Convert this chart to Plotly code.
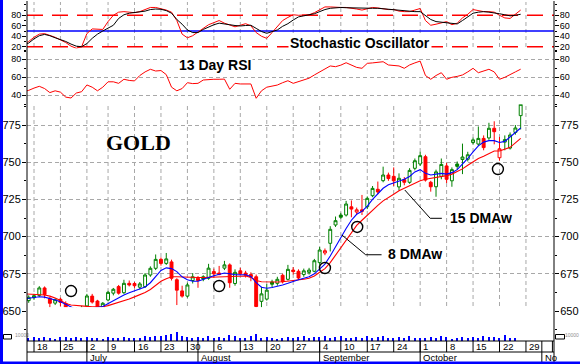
import plotly.graph_objects as go

# ---------------- data (trading-day index: 0 = Mon 18 Jun 2007) ----------------
candle_idx = list(range(-1, 93))
opens = [657, 659, 660.5, 665.5, 658.5, 655.3, 657.9, 655, 643.1, 646.2,
         650.5, 653.4, 660, 656.7, 650.7, 657.4, 662, 666.4, 662.3, 668.6,
         668.5, 666, 666.4, 674.2, 678.7, 684.7, 682, 683, 671, 663.5,
         660, 670.5, 672, 673, 672, 676.5, 675.5, 678.8, 681, 668.5,
         677, 675.5, 674.5, 673, 656.5, 658, 669.5, 668.6, 674, 671.3,
         677.5, 676.7, 674.5, 676, 676.7, 682.5, 689, 695.5, 707.8, 714.5,
         714.5, 720, 716.5, 718, 720.1, 727.5, 731.8, 737.6, 741.4, 740.5,
         733.4, 738.3, 736.5, 745.9, 748.8, 753.7, 736.5, 733.5, 740.5, 747.5,
         737.5, 748.8, 751.8, 752, 763.2, 762.2, 766, 766.3, 772.8, 753,
         763.5, 759.5, 770, 781.3]
highs = [660.5, 661.5, 666.7, 666.5, 659.5, 658.5, 659, 656.5, 646.6, 652.5,
         653.5, 661.5, 661.5, 657.5, 656, 663.5, 665.5, 667.5, 671, 670.5,
         669.5, 669.5, 675.5, 680, 688, 686, 689, 684.5, 672, 667,
         669, 675.5, 673.5, 674, 681.7, 678.5, 680.3, 683.7, 682, 678,
         679, 677, 676, 674.5, 666.3, 668, 671, 673, 675, 681,
         679.5, 678, 678.5, 679, 685, 693, 692, 707, 713.5, 716,
         724, 724.3, 719.5, 728, 727, 734, 737, 747, 743, 746.5,
         742.5, 740, 746, 752.5, 757, 755, 737.5, 745, 752.5, 749.5,
         746.5, 750.5, 762.5, 757, 766.5, 774, 768, 776.5, 777.5, 767,
         768, 770, 775, 790.5]
lows = [655.5, 657.5, 659.5, 658.5, 651.8, 654, 653, 644.6, 642, 645,
        649, 652.5, 655, 649.5, 648, 656.5, 660.5, 661, 661.5, 666.5,
        665.5, 664.5, 665.5, 673, 677.5, 680.5, 681, 670.5, 654, 659,
        659, 668.5, 665.6, 670, 671, 672.5, 674, 677.5, 665.6, 667,
        674.5, 672.5, 670, 647, 650, 657, 666, 667, 668.5, 670.5,
        674.5, 671, 673, 674.5, 676, 680.5, 687.5, 690, 706.5, 712,
        713.5, 713, 715, 714.5, 718.5, 726.5, 728.5, 736.5, 737.5, 734,
        731, 734.5, 735.5, 744.5, 747.5, 737, 730.2, 726.8, 738.5, 736,
        733.5, 745, 742, 750.5, 762, 761, 758, 765, 762, 751,
        758, 758.5, 768.5, 772]
closes = [659.2, 660.3, 665.5, 661, 655.2, 657.6, 655.8, 646.5, 645.3, 651.6,
          651.9, 660.1, 656, 651.8, 655.2, 662.5, 664.6, 662, 668.6, 667.5,
          667, 668.2, 674.2, 678.7, 684.7, 682, 685, 672, 664, 660,
          667.5, 673, 670.5, 671.5, 678.8, 675, 674.5, 681, 669, 676,
          675, 674, 673, 653, 661.5, 664, 668, 671.3, 669.7, 678,
          676.5, 672.2, 677, 677.5, 683.8, 691, 690.5, 704.9, 710.7, 713,
          721.9, 718.5, 718, 717, 725.7, 732.4, 730, 741.4, 739, 737.5,
          739.2, 736.5, 744.5, 751, 754.4, 738, 733.5, 743.5, 748.5, 738.5,
          745, 747.2, 753.5, 755, 765, 766, 759.8, 772.8, 770.5, 759,
          765.2, 768.3, 773, 788.9]

vol_idx = list(range(-1, 92))
volume = [4300, 6000, 5100, 6000, 4300, 3400, 6000, 6800, 4300, 6000,
          5100, 6000, 4300, 5100, 2600, 6000, 4300, 5100, 6000, 5100,
          4300, 5100, 8500, 6000, 8500, 7700, 10200, 11900, 15300, 8500,
          6000, 5100, 6800, 5100, 8500, 5100, 6800, 5100, 10200, 8500,
          5100, 5100, 8500, 11900, 5100, 6800, 5100, 3400, 5100, 6800,
          5100, 6800, 8500, 5100, 6800, 6800, 8500, 5100, 6800, 8500,
          5100, 5100, 6800, 5100, 8500, 5100, 6800, 8500, 5100, 5100,
          6800, 5100, 8500, 5100, 5100, 5100, 6800, 5100, 8500, 6800,
          3400, 5100, 6800, 5100, 6800, 5100, 8500, 6800, 6800, 5100,
          10200, 5100, 5100]

line_idx = list(range(-2, 93))
dma8 = [658.0, 658.4, 659.0, 659.6, 659.3, 658.5, 657.4, 656.2, 654.5, 652.5,
        651.0, 650.3, 650.8, 651.8, 652.3, 653.0, 655.0, 657.0, 659.0, 660.8,
        662.2, 663.5, 664.8, 666.2, 669.0, 673.5, 677.3, 679.0, 678.5, 676.5,
        673.0, 671.0, 670.0, 670.0, 671.0, 672.5, 673.7, 674.5, 675.5, 675.0,
        674.4, 674.4, 674.4, 673.2, 669.0, 666.0, 665.3, 665.8, 666.4, 667.5,
        668.6, 670.0, 671.0, 672.0, 673.0, 675.0, 678.5, 681.5, 687.0, 693.5,
        700.0, 705.5, 711.0, 715.0, 717.0, 720.5, 725.0, 729.0, 732.5, 734.8,
        736.0, 737.0, 738.5, 740.4, 743.5, 745.0, 742.5, 741.4, 742.0, 742.5,
        742.0, 743.0, 745.0, 748.5, 752.5, 757.0, 761.0, 763.5, 764.5, 764.5,
        763.3, 764.0, 767.0, 770.5, 773.0]
dma15 = [661.5, 661.4, 661.3, 661.2, 660.8, 660.0, 658.8, 657.0, 655.0, 654.0,
         653.6, 653.3, 653.1, 652.9, 652.9, 652.9, 653.6, 654.6, 655.8, 657.0,
         658.0, 659.5, 660.8, 662.5, 664.5, 667.0, 670.0, 671.7, 673.0, 673.0,
         672.8, 672.6, 672.5, 672.5, 672.5, 672.6, 672.8, 673.0, 673.2, 673.5,
         673.5, 673.6, 673.5, 672.6, 670.5, 669.7, 669.5, 669.5, 669.5, 669.7,
         670.0, 670.5, 670.8, 671.3, 672.0, 673.5, 676.0, 678.5, 682.5, 687.5,
         692.5, 698.0, 703.0, 707.5, 711.0, 714.5, 718.0, 721.0, 724.0, 726.5,
         728.5, 730.8, 732.5, 734.5, 736.0, 737.5, 738.5, 739.0, 739.5, 740.3,
         741.0, 742.0, 743.5, 745.5, 748.0, 750.5, 752.5, 754.0, 756.0, 757.5,
         757.5, 758.5, 760.0, 763.0, 766.0]
stoch_k = [24, 30, 38, 44, 45, 42, 38, 33, 28, 21,
           17, 20, 45, 54, 53, 53, 68, 80, 86, 87,
           86, 85, 87, 91, 95, 95, 93, 90, 86, 70,
           44, 37, 41, 48, 55, 62, 66, 70, 65, 61,
           58, 61, 64, 60, 47, 40, 36, 47, 58, 70,
           76, 81, 80, 80, 81, 85, 90, 96, 96, 95,
           95, 95, 94, 92, 90, 92, 95, 94, 92, 91,
           91, 88, 87, 87, 90, 93, 70, 61, 63, 66,
           68, 62, 65, 75, 82, 91, 89, 87, 87, 86,
           80, 75, 74, 82, 90]
stoch_d = [22, 27, 35, 41, 43.5, 41, 37, 34, 30, 25,
           21, 20, 26, 36, 44, 50, 55, 61, 74, 81,
           84, 85, 86, 88, 91, 92, 91.5, 89, 84, 72,
           63, 52, 47, 47, 53, 58, 62, 65, 64, 62,
           60.5, 59.6, 60.5, 61, 55, 49, 45.6, 49, 52, 59,
           64, 71, 77, 79, 81, 83, 87, 91, 93.4, 94.5,
           95, 94.5, 94, 93.5, 93.2, 93, 93.4, 93.4, 92.5, 91.5,
           90.5, 89, 88, 87, 87, 87, 80, 72, 68, 67,
           66, 65, 63.5, 70, 77, 84, 86, 87, 86, 85,
           83, 81, 79, 80, 82]
rsi13 = [44, 45.5, 48, 50, 47.5, 43, 45, 43.5, 38, 37,
         42.5, 44, 51.5, 49, 45, 49, 55, 55, 53.3, 57.8,
         56.5, 56, 62, 66, 68.9, 67, 67.5, 63, 49, 45,
         47.5, 54, 53, 53.3, 57, 57.8, 57.8, 57.8, 58, 46.7,
         53.3, 52.6, 52.6, 52.6, 36.7, 45, 49, 50, 51.4, 54,
         56.2, 53.3, 55, 57, 59, 62.6, 66, 70, 72.6, 71.8,
         73.5, 76.2, 73.7, 71, 70, 75.5, 76, 76.5, 77.3, 73.7,
         73, 72.6, 70, 73.7, 76, 78, 62, 57.8, 62, 65.1,
         57.8, 60, 61, 62.6, 66, 70, 65.1, 67, 68.9, 66,
         57.8, 60, 62.6, 66, 69]

circle_idx = [7.0, 35.0, 55.0, 61.1, 87.7]
circle_price = [663.4, 666.8, 678.9, 706.5, 745.4]

week_idx = [0, 5, 10, 14, 19, 24, 29, 34, 39, 44, 49, 54, 58, 63, 68, 73, 78, 83, 88, 93, 98]
week_lbl = ["18", "25", "2", "9", "16", "23", "30", "6", "13", "20", "27",
            "4", "10", "17", "24", "1", "8", "15", "22", "29", ""]
month_idx = [10, 31, 54, 73, 96]
month_lbl = ["July", "August", "September", "October", "No"]

price_ticks = [650, 675, 700, 725, 750, 775]
stoch_ticks = [20, 40, 60, 80]
rsi_ticks = [40, 60, 80]

# ---------------- styling helpers ----------------
W, H = 580, 364
L, R, T, B = 27, 26, 2, 23
PW, PH = W - L - R, H - T - B


def px(xp):
    return (xp - L) / PW


def py(yp):
    return (H - B - yp) / PH


GREEN = "#008000"
RED = "#ff0000"
BLUE = "#0000ff"
GRID = "#a8a8a8"
FONT = "Liberation Sans, Arial, sans-serif"

fig = go.Figure()

# volume
fig.add_trace(go.Bar(x=vol_idx, y=volume, yaxis="y4", width=0.28,
                     marker=dict(color=BLUE, line=dict(width=0)), hoverinfo="skip"))

# candles split into up-vs-prev (green) and down-vs-prev (red)
g = dict(x=[], o=[], h=[], l=[], c=[])
r = dict(x=[], o=[], h=[], l=[], c=[])
prev = None
for k, xi in enumerate(candle_idx):
    tgt = g if (prev is None or closes[k] >= prev) else r
    tgt["x"].append(xi); tgt["o"].append(opens[k]); tgt["h"].append(highs[k])
    tgt["l"].append(lows[k]); tgt["c"].append(closes[k])
    prev = closes[k]

for d, col in ((g, GREEN), (r, RED)):
    fig.add_trace(go.Candlestick(
        x=d["x"], open=d["o"], high=d["h"], low=d["l"], close=d["c"],
        increasing=dict(line=dict(color=col, width=1), fillcolor="white"),
        decreasing=dict(line=dict(color=col, width=1), fillcolor=col),
        whiskerwidth=0, hoverinfo="skip", yaxis="y"))

# moving averages
fig.add_trace(go.Scatter(x=line_idx, y=dma15, mode="lines", yaxis="y",
                         line=dict(color=RED, width=1.1), hoverinfo="skip"))
fig.add_trace(go.Scatter(x=line_idx, y=dma8, mode="lines", yaxis="y",
                         line=dict(color=BLUE, width=1.1), hoverinfo="skip"))

# circles
fig.add_trace(go.Scatter(x=circle_idx, y=circle_price, mode="markers", yaxis="y",
                         marker=dict(symbol="circle-open", size=11, color="black",
                                     line=dict(width=1.4)), hoverinfo="skip"))

# stochastic
fig.add_trace(go.Scatter(x=line_idx, y=stoch_k, mode="lines", yaxis="y2",
                         line=dict(color=RED, width=1), hoverinfo="skip"))
fig.add_trace(go.Scatter(x=line_idx, y=stoch_d, mode="lines", yaxis="y2",
                         line=dict(color="black", width=1), hoverinfo="skip"))
# RSI
fig.add_trace(go.Scatter(x=line_idx, y=rsi13, mode="lines", yaxis="y3",
                         line=dict(color=RED, width=1), hoverinfo="skip"))

# invisible anchors for right-side mirror axes
for ax, yv in (("y5", 700), ("y6", 50), ("y7", 50), ("y8", 1000)):
    fig.add_trace(go.Scatter(x=[0], y=[yv], yaxis=ax, mode="markers",
                             marker=dict(opacity=0), hoverinfo="skip"))

price_range = [629.84, 793.15]
price_dom = [0, py(98)]
stoch_range = [0, 100]
stoch_dom = [py(57.17), py(4.84)]
rsi_range = [30, 92]
rsi_dom = [py(104.3), py(48.5)]
vol_range = [0, 56500]
vol_dom = [0, 0.1]


def yax(rng, dom, ticks, size, grid, minor_vals, side="left", overlay=None):
    a = dict(range=rng, tickvals=ticks, ticks="outside", ticklen=4, tickcolor="black",
             tickwidth=1, tickfont=dict(size=size, family=FONT, color="black"),
             showgrid=grid, gridcolor=GRID, griddash="4px,3px", gridwidth=1,
             zeroline=False, showline=False, anchor="x", side=side,
             automargin=False, fixedrange=True, ticklabelstandoff=-1,
             minor=dict(tickvals=minor_vals, ticks="outside", ticklen=2,
                        tickcolor="black", showgrid=False))
    if overlay:
        a["overlaying"] = overlay
        a["showgrid"] = False
    else:
        a["domain"] = dom
    return a


price_minor = [637.5, 662.5, 687.5, 712.5, 737.5, 762.5, 787.5]
stoch_minor = [10, 30, 50, 70, 90, 100]
rsi_minor = [30, 50, 70, 90]

fig.update_layout(
    template="none", width=W, height=H, showlegend=False, autosize=False,
    margin=dict(l=L, r=R, t=T, b=B, pad=0),
    paper_bgcolor="white", plot_bgcolor="white",
    bargap=0, boxgap=0.22,
    xaxis=dict(range=[-1.323, 98.3], showticklabels=False, ticks="", showgrid=False,
               zeroline=False, showline=False, anchor="y", fixedrange=True,
               automargin=False, rangeslider=dict(visible=False)),
    yaxis=yax(price_range, price_dom, price_ticks, 11, True, price_minor),
    yaxis2=yax(stoch_range, stoch_dom, stoch_ticks, 9, False, stoch_minor),
    yaxis3=yax(rsi_range, rsi_dom, rsi_ticks, 9, True, rsi_minor),
    yaxis4=dict(range=vol_range, domain=vol_dom, tickvals=[10000], ticktext=["10000"],
                ticks="", showgrid=False, zeroline=False, showline=False, anchor="x",
                automargin=False, ticklabelstandoff=-3,
                tickfont=dict(size=5, color="#909090", family=FONT), fixedrange=True),
    yaxis5=yax(price_range, None, price_ticks, 11, False, price_minor, "right", "y"),
    yaxis6=yax(stoch_range, None, stoch_ticks, 9, False, stoch_minor, "right", "y2"),
    yaxis7=yax(rsi_range, None, rsi_ticks, 9, False, rsi_minor, "right", "y3"),
    yaxis8=dict(range=vol_range, overlaying="y4", side="right", anchor="x",
                tickvals=[10000], ticktext=["10000"], ticks="", showgrid=False,
                zeroline=False, showline=False, ticklabelstandoff=10, automargin=False,
                tickfont=dict(size=5, color="#909090", family=FONT), fixedrange=True),
)

shapes = []
# vertical dashed gridlines
for w in week_idx[:-1]:
    shapes.append(dict(type="line", xref="x", yref="paper", x0=w, x1=w, y0=0, y1=1,
                       line=dict(color=GRID, width=1, dash="4px,3px"), layer="below"))
# reference lines in oscillators
for lvl in (80, 20):
    shapes.append(dict(type="line", xref="paper", yref="y2", x0=0, x1=1, y0=lvl, y1=lvl,
                       line=dict(color=RED, width=1.6, dash="16px,9px"), layer="between"))
shapes.append(dict(type="line", xref="paper", yref="y2", x0=0, x1=1, y0=50, y1=50,
                   line=dict(color=BLUE, width=1.4), layer="between"))
shapes.append(dict(type="line", xref="paper", yref="y3", x0=0, x1=1, y0=70, y1=70,
                   line=dict(color=RED, width=1.6, dash="16px,9px"), layer="between"))
shapes.append(dict(type="line", xref="paper", yref="y3", x0=0, x1=1, y0=50, y1=50,
                   line=dict(color=BLUE, width=1.4), layer="between"))

# frame lines
shapes += [
    dict(type="line", xref="paper", yref="paper", x0=0, x1=0, y0=py(362), y1=py(1),
         line=dict(color="black", width=1)),
    dict(type="line", xref="paper", yref="paper", x0=1, x1=1, y0=py(362), y1=py(1),
         line=dict(color="black", width=1)),
    dict(type="line", xref="paper", yref="paper", x0=0, x1=1, y0=0, y1=0,
         line=dict(color="black", width=1)),
    dict(type="line", xref="paper", yref="paper", x0=0, x1=1, y0=py(352), y1=py(352),
         line=dict(color="black", width=1)),
]
for w in week_idx:
    shapes.append(dict(type="line", xref="x", yref="paper", x0=w, x1=w, y0=py(352), y1=0,
                       line=dict(color="black", width=1)))
for m in month_idx:
    shapes.append(dict(type="line", xref="x", yref="paper", x0=m, x1=m, y0=py(362), y1=0,
                       line=dict(color="black", width=1)))

# leader lines for the DMA labels
shapes += [
    dict(type="line", xref="x", yref="y", x0=70.1, y0=731.3, x1=74.9, y1=712.3,
         line=dict(color="black", width=1)),
    dict(type="line", xref="x", yref="y", x0=74.9, y0=712.3, x1=77.1, y1=712.3,
         line=dict(color="black", width=1)),
    dict(type="line", xref="x", yref="y", x0=58.2, y0=701.1, x1=62.7, y1=687.8,
         line=dict(color="black", width=1)),
    dict(type="line", xref="x", yref="y", x0=62.7, y0=687.8, x1=65.7, y1=687.8,
         line=dict(color="black", width=1)),
]

# small volume legend boxes
shapes += [
    dict(type="rect", xref="paper", yref="paper", x0=px(3.5), x1=px(11.5), y0=py(339), y1=py(334.5),
         line=dict(color="black", width=1), fillcolor="white"),
    dict(type="rect", xref="paper", yref="paper", x0=px(555.5), x1=px(564.5), y0=py(339), y1=py(334.5),
         line=dict(color="black", width=1), fillcolor="white"),
]

# blue border
shapes += [
    dict(type="rect", xref="paper", yref="paper", x0=px(0), x1=px(3), y0=py(364), y1=py(0),
         line=dict(width=0), fillcolor=BLUE),
    dict(type="rect", xref="paper", yref="paper", x0=px(0), x1=px(580), y0=py(364), y1=py(361.5),
         line=dict(width=0), fillcolor=BLUE),
]
fig.update_layout(shapes=shapes)

ann = []
for w, t in zip(week_idx, week_lbl):
    if t:
        ann.append(dict(x=w, y=py(346.5), xref="x", yref="paper", text=t, showarrow=False,
                        xanchor="left", yanchor="middle", xshift=1,
                        font=dict(size=9.5, family=FONT, color="black")))
for m, t in zip(month_idx, month_lbl):
    ann.append(dict(x=m, y=py(357), xref="x", yref="paper", text=t, showarrow=False,
                    xanchor="left", yanchor="middle", xshift=1,
                    font=dict(size=9.5, family=FONT, color="black")))

ann += [
    dict(x=19.66, y=763.2, xref="x", yref="y", text="<b>GOLD</b>", showarrow=False,
         font=dict(size=22, family="Liberation Serif, Times New Roman, serif", color="black")),
    dict(x=48.0, y=27.5, xref="x", yref="y2", text="<b>Stochastic Oscillator</b>",
         showarrow=False, xanchor="left", bgcolor="white",
         font=dict(size=14, family=FONT, color="black")),
    dict(x=27.0, y=74.2, xref="x", yref="y3", text="<b>13 Day RSI</b>",
         showarrow=False, xanchor="left", bgcolor="white",
         font=dict(size=14, family=FONT, color="black")),
    dict(x=78.2, y=712.6, xref="x", yref="y", text="<b>15 DMAw</b>",
         showarrow=False, xanchor="left", bgcolor="white",
         font=dict(size=14, family=FONT, color="black")),
    dict(x=66.6, y=688.4, xref="x", yref="y", text="<b>8 DMAw</b>",
         showarrow=False, xanchor="left", bgcolor="white",
         font=dict(size=14, family=FONT, color="black")),
]
fig.update_layout(annotations=ann)

fig.write_html("out.html", config={"displayModeBar": False},
               post_script="document.body.style.margin='0';document.body.style.padding='0';")
